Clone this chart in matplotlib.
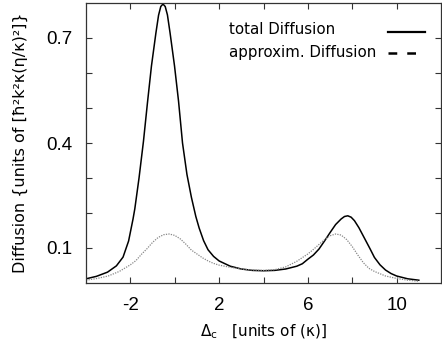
import matplotlib
matplotlib.use("Agg")
import matplotlib.pyplot as plt
from matplotlib.lines import Line2D

plt.rcParams['font.family'] = ['Liberation Sans', 'DejaVu Sans']

# Detuning values (units of kappa)
x_total = [-4.0, -3.53, -3.03, -2.63, -2.33, -2.08, -1.88, -1.80, -1.61, -1.41, -1.23, -1.05,
           -0.85, -0.73, -0.63, -0.53, -0.43, -0.33, -0.21, -0.01, 0.17, 0.35, 0.55, 0.75,
           0.95, 1.1, 1.3, 1.5, 1.75, 2.0, 2.5, 3.0, 3.5, 4.0, 4.5, 5.0, 5.5, 5.75, 6.0,
           6.25, 6.5, 6.75, 7.0, 7.25, 7.5, 7.65, 7.8, 7.95, 8.1, 8.3, 8.6, 8.8, 9.0, 9.25, 9.5, 9.75,
           10.0, 10.5, 11.0]
total_diff = [0.012, 0.019, 0.031, 0.049, 0.074, 0.120, 0.183, 0.212, 0.300, 0.405, 0.515, 0.620,
              0.714, 0.765, 0.790, 0.797, 0.790, 0.766, 0.714, 0.620, 0.520, 0.400, 0.310, 0.245,
              0.190, 0.157, 0.121, 0.095, 0.076, 0.063, 0.048, 0.040, 0.036, 0.035, 0.036, 0.040, 0.048, 0.055, 0.068,
              0.080, 0.097, 0.120, 0.144, 0.167, 0.183, 0.190, 0.192, 0.188, 0.178, 0.158, 0.122, 0.098, 0.073, 0.052, 0.037, 0.027,
              0.020, 0.012, 0.008]

x_approx = [-4.0, -3.5, -3.0, -2.5, -2.0, -1.75, -1.5, -1.25, -1.0, -0.75, -0.5, -0.25,
            0.0, 0.25, 0.5, 0.75, 1.0, 1.25, 1.5, 1.75, 2.0, 2.5, 3.0, 3.5, 4.0, 4.5,
            5.0, 5.5, 6.0, 6.25, 6.5, 6.75, 7.0, 7.25, 7.5, 7.75, 8.0, 8.25, 8.5, 8.75,
            9.0, 9.5, 10.0, 10.5, 11.0]
approx_diff = [0.008, 0.013, 0.020, 0.033, 0.052, 0.064, 0.082, 0.098, 0.116, 0.130, 0.138, 0.140,
               0.136, 0.126, 0.111, 0.094, 0.083, 0.072, 0.063, 0.056, 0.051, 0.045, 0.040, 0.037, 0.036, 0.038,
               0.046, 0.062, 0.083, 0.096, 0.110, 0.124, 0.135, 0.140, 0.137, 0.124, 0.104, 0.080, 0.058, 0.042,
               0.033, 0.020, 0.013, 0.008, 0.005]

x_ticks = [-2, 0, 2, 4, 6, 8, 10]
x_ticklabels = ['-2', '', '2', '', '6', '', '10']
y_ticks = [0.1, 0.2, 0.3, 0.4, 0.5, 0.6, 0.7]
y_ticklabels = ['0.1', '', '', '0.4', '', '', '0.7']
legend_labels = ['total Diffusion', 'approxim. Diffusion']

W, H = 442, 356
fig = plt.figure(figsize=(W / 100, H / 100), dpi=100)
ax = fig.add_axes([86 / W, (H - 283) / H, (441 - 86) / W, (283 - 3) / H])

ax.plot(x_total, total_diff, color='black', lw=1.1)
ax.plot(x_approx, approx_diff, color='#888888', lw=0.9, dashes=(1, 1))

ax.set_xlim(-4, 12)
ax.set_ylim(0, 0.8)
ax.set_xticks(x_ticks)
ax.set_xticklabels(x_ticklabels)
ax.set_yticks(y_ticks)
ax.set_yticklabels(y_ticklabels)
ax.tick_params(direction='in', length=4, width=0.8, labelsize=13.5, color='#333333',
               top=True, right=True)
ax.tick_params(axis='y', pad=10)
ax.tick_params(axis='x', pad=10)
for s in ax.spines.values():
    s.set_linewidth(0.9)
    s.set_color('#333333')

ax.set_ylabel('Diffusion {units of [ħ²k²κ(η/κ)²]}', fontsize=11.5,
              family=['DejaVu Sans'])
ax.yaxis.set_label_coords((28 - 86) / 355, 0.5)
ax.set_xlabel('Δ$_\\mathrm{c}$   [units of (κ)]', fontsize=11, family=['DejaVu Sans'])
ax.xaxis.set_label_coords(0.5, (283 - 323) / 280)

# legend drawn manually (left aligned text, sample line to the right)
fig.text(229 / W, 1 - 30 / H, legend_labels[0], fontsize=10.8, family=['DejaVu Sans'],
         ha='left', va='center')
fig.text(229 / W, 1 - 53 / H, legend_labels[1], fontsize=10.8, family=['DejaVu Sans'],
         ha='left', va='center')
fig.add_artist(Line2D([388 / W, 425 / W], [1 - 32 / H, 1 - 32 / H], color='black', lw=1.6))
fig.add_artist(Line2D([388 / W, 425 / W], [1 - 53 / H, 1 - 53 / H], color='black', lw=1.8,
                      dashes=(3.5, 4)))

fig.savefig('out.png', dpi=100)
